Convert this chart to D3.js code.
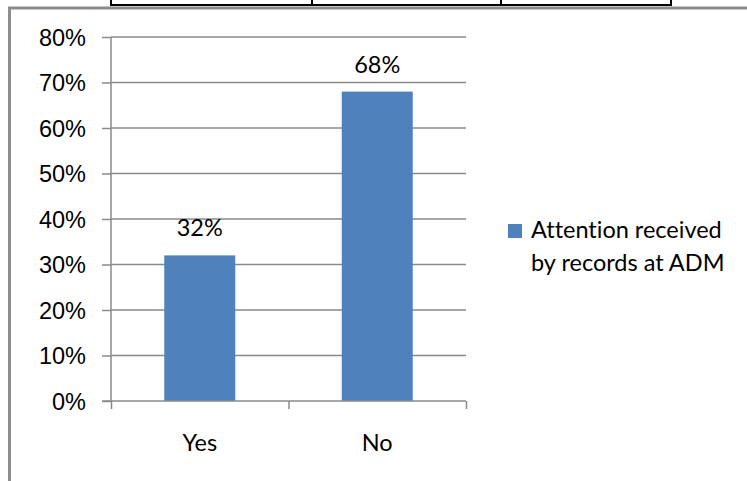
<!DOCTYPE html>
<html>
<head>
<meta charset="utf-8">
<script src="https://cdn.jsdelivr.net/npm/d3@7"></script>
<style>
    body { margin: 0; background: #fff; }
    svg { display: block; font-family: Lato, "Open Sans", sans-serif; font-variant-ligatures: none; }
</style>
</head>
<body>
<div id="chart"></div>
<script>
// data
const categories = ["Yes", "No"];
const values = [0.32, 0.68];
const yTicks = [0, 0.1, 0.2, 0.3, 0.4, 0.5, 0.6, 0.7, 0.8];
const seriesName = ["Attention received", "by records at ADM"];

const width = 747, height = 481;
const plot = { left: 111, right: 466, top: 37, bottom: 401 };
const barColor = "#4F81BD";
const gridColor = "#8a8a8a";
const fontSize = 23.5;

let svg = d3.select("#chart")
    .append("svg")
    .attr("width", width)
    .attr("height", height);

// piece of the table above the chart (page artefact)
let tableCols = [111, 312, 501, 671];
svg.append("line")
    .attr("x1", tableCols[0]).attr("x2", tableCols[tableCols.length - 1])
    .attr("y1", 5).attr("y2", 5)
    .attr("stroke", "#000").attr("stroke-width", 2);
svg.selectAll("line.tcol")
    .data(tableCols)
    .enter().append("line")
    .attr("class", "tcol")
    .attr("x1", d => d).attr("x2", d => d)
    .attr("y1", 0).attr("y2", 6)
    .attr("stroke", "#000").attr("stroke-width", 2);

// chart frame (only top and left edges are in view)
svg.append("path")
    .attr("d", `M9.5,${height}V8H${width}`)
    .attr("fill", "none")
    .attr("stroke", "#8c8c8c")
    .attr("stroke-width", 3);

let x = d3.scaleBand()
    .domain(categories)
    .range([plot.left, plot.right])
    .paddingInner(0.6)
    .paddingOuter(0.3);

// category scale for ticks (boundaries between categories)
let xEdges = d3.scaleLinear()
    .domain([0, categories.length])
    .range([plot.left, plot.right]);

let y = d3.scaleLinear()
    .domain([0, 0.8])
    .range([plot.bottom, plot.top]);

// gridlines
svg.append("g")
    .selectAll("line")
    .data(yTicks.slice(1))
    .enter().append("line")
    .attr("x1", plot.left).attr("x2", plot.right)
    .attr("y1", d => y(d)).attr("y2", d => y(d))
    .attr("stroke", gridColor)
    .attr("stroke-width", 1.5);

// bars
svg.append("g")
    .selectAll("rect")
    .data(values)
    .enter().append("rect")
    .attr("x", (d, i) => x(categories[i]))
    .attr("y", d => y(d))
    .attr("width", x.bandwidth())
    .attr("height", d => y(0) - y(d))
    .attr("fill", barColor);

// data labels
svg.append("g")
    .selectAll("text")
    .data(values)
    .enter().append("text")
    .attr("x", (d, i) => x(categories[i]) + x.bandwidth() / 2)
    .attr("y", d => y(d) - 19)
    .attr("text-anchor", "middle")
    .attr("font-size", fontSize)
    .attr("fill", "#000")
    .text(d => d3.format(".0%")(d));

// y axis
let yAxis = svg.append("g")
    .attr("transform", `translate(${plot.left},0)`)
    .call(d3.axisLeft(y).tickValues(yTicks).tickFormat(d3.format(".0%")).tickSize(9).tickPadding(16));
yAxis.select(".domain").attr("stroke", gridColor).attr("stroke-width", 1.5)
    .attr("d", `M0,${plot.top}V${plot.bottom}`);
yAxis.selectAll(".tick line").attr("stroke", gridColor).attr("stroke-width", 1.5);
yAxis.selectAll(".tick text")
    .attr("font-size", fontSize)
    .attr("font-family", null)
    .attr("fill", "#000")
    .attr("dy", "0.36em");

// x axis
let xAxis = svg.append("g")
    .attr("transform", `translate(0,${plot.bottom})`)
    .call(d3.axisBottom(xEdges).tickValues(d3.range(categories.length + 1)).tickFormat("").tickSize(8).tickSizeOuter(0));
xAxis.select(".domain").attr("stroke", gridColor).attr("stroke-width", 1.5)
    .attr("d", `M${plot.left - 9},0H${plot.right}`);
xAxis.selectAll(".tick line").attr("stroke", gridColor).attr("stroke-width", 1.5);

svg.append("g")
    .selectAll("text")
    .data(categories)
    .enter().append("text")
    .attr("x", d => x(d) + x.bandwidth() / 2)
    .attr("y", 451)
    .attr("text-anchor", "middle")
    .attr("font-size", fontSize)
    .attr("fill", "#000")
    .text(d => d);

// legend
let legend = svg.append("g")
    .attr("transform", "translate(508,224)");
legend.append("rect")
    .attr("width", 14).attr("height", 14)
    .attr("fill", barColor);
legend.selectAll("text")
    .data(seriesName)
    .enter().append("text")
    .attr("x", 23)
    .attr("y", (d, i) => 14 + i * 33)
    .attr("font-size", fontSize)
    .attr("fill", "#000")
    .text(d => d);
</script>
</body>
</html>
